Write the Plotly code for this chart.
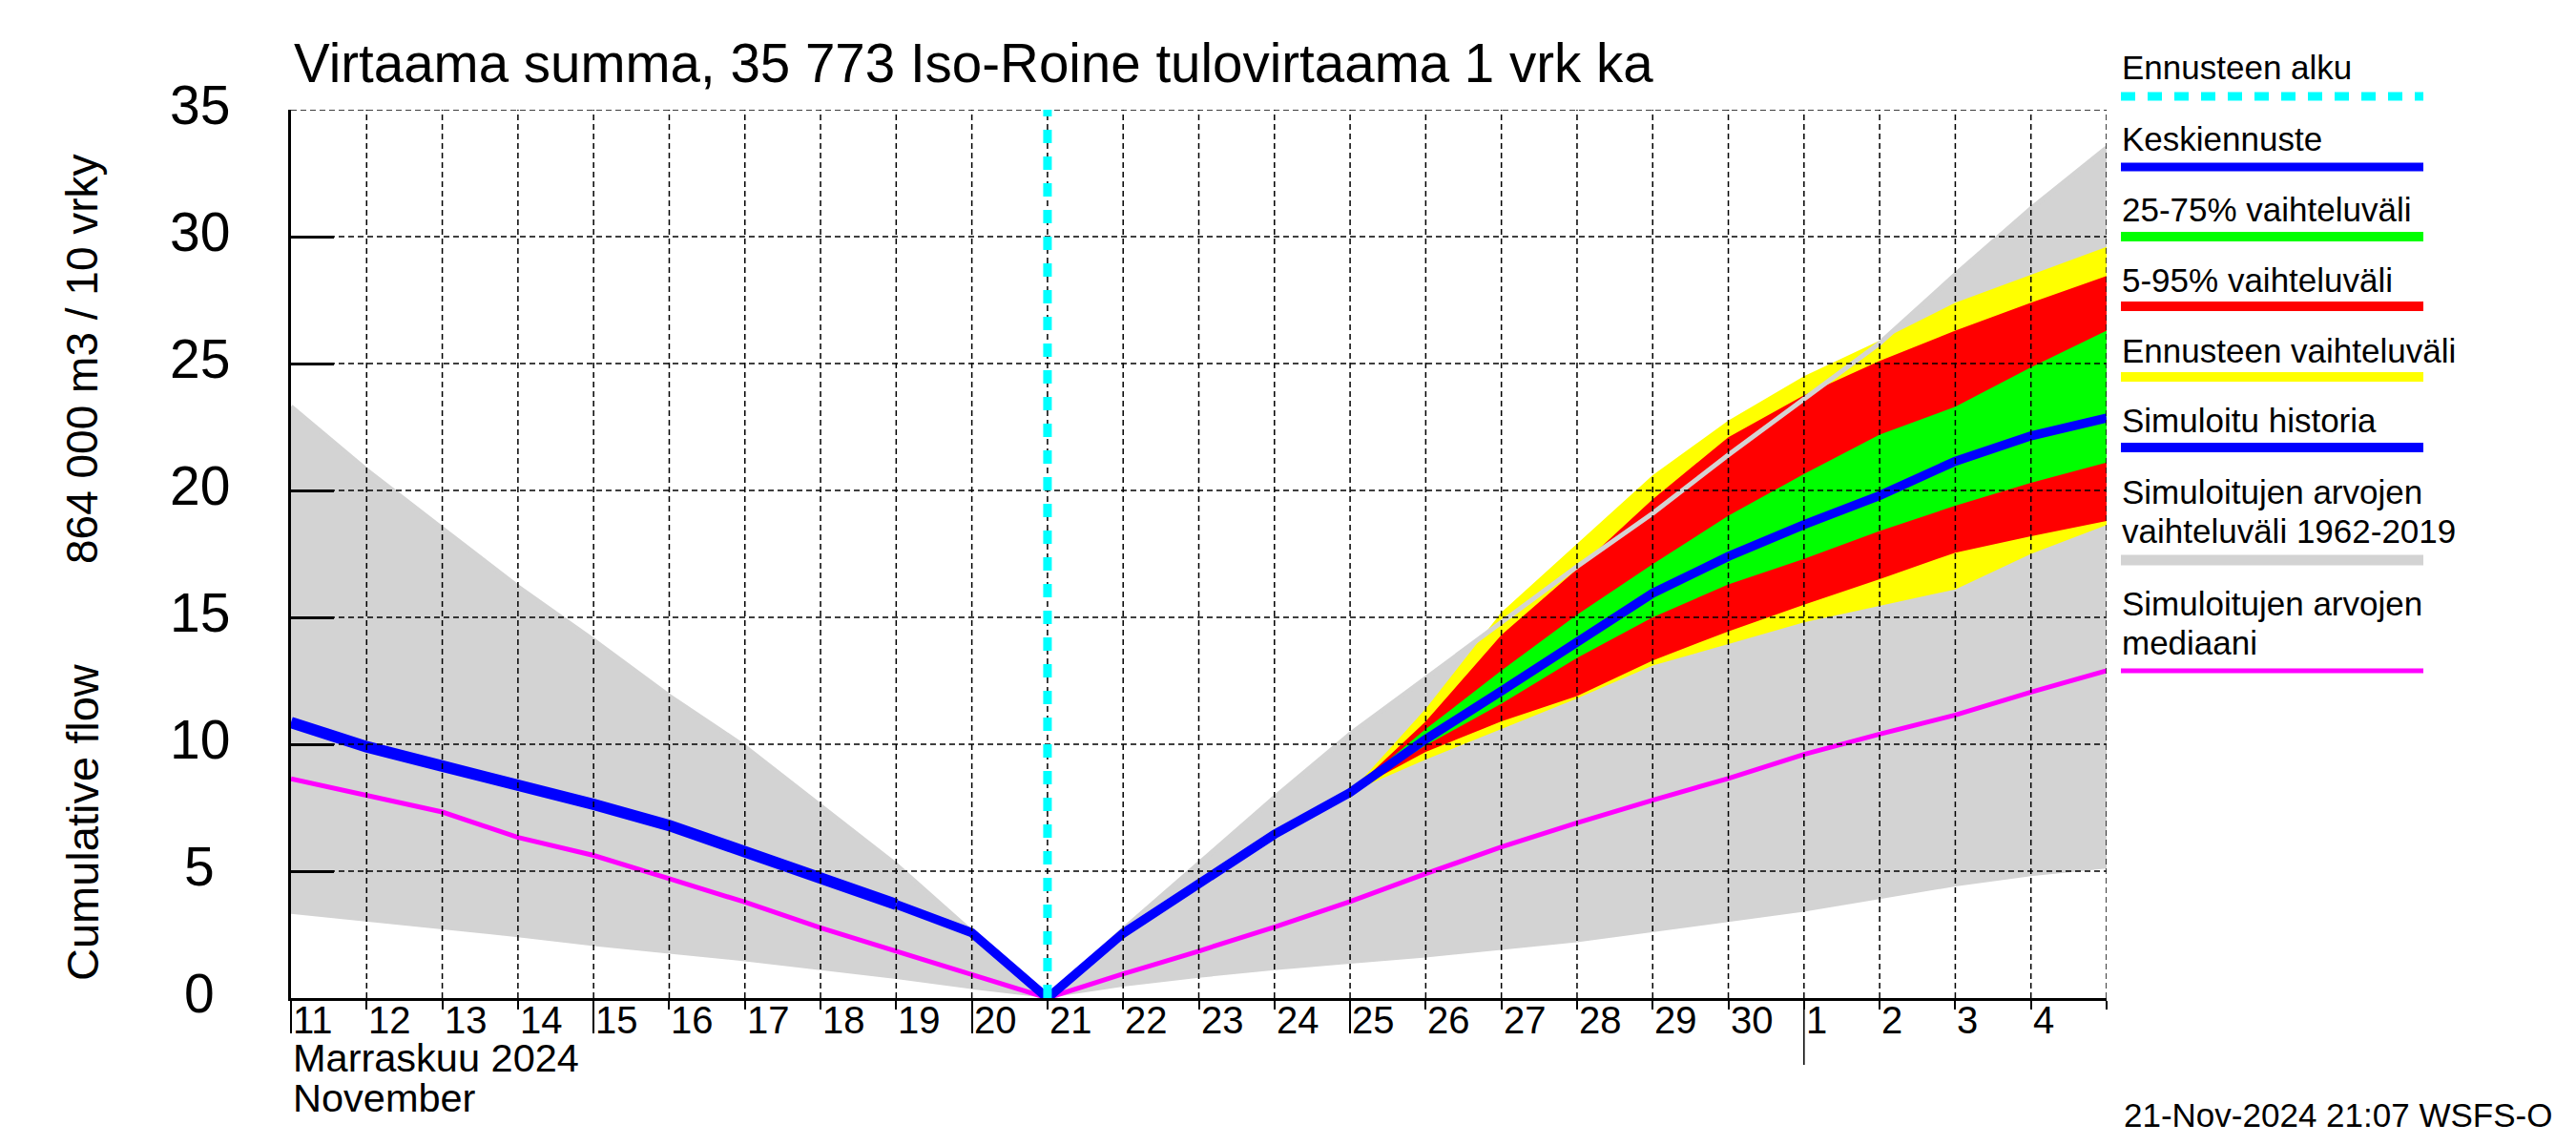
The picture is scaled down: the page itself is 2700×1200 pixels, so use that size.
import plotly.graph_objects as go

# ---------------- data ----------------
all_days = ["2024-11-11", "2024-11-12", "2024-11-13", "2024-11-14", "2024-11-15",
            "2024-11-16", "2024-11-17", "2024-11-18", "2024-11-19", "2024-11-20",
            "2024-11-21", "2024-11-22", "2024-11-23", "2024-11-24", "2024-11-25",
            "2024-11-26", "2024-11-27", "2024-11-28", "2024-11-29", "2024-11-30",
            "2024-12-01", "2024-12-02", "2024-12-03", "2024-12-04", "2024-12-05"]
sim_max = [23.3, 20.8, 18.5, 16.2, 14.1, 11.9, 9.9, 7.6, 5.25, 2.6, 0.0,
           2.7, 5.3, 7.9, 10.4, 12.6, 14.8, 17.0, 19.1, 21.4, 23.6, 25.8, 28.5, 31.1, 33.5]
sim_min = [3.32, 3.0, 2.7, 2.4, 2.05, 1.75, 1.45, 1.1, 0.75, 0.35, 0.0,
           0.45, 0.8, 1.1, 1.35, 1.6, 1.9, 2.2, 2.6, 3.0, 3.4, 3.9, 4.4, 4.8, 5.1]
sim_median = [8.64, 8.0, 7.33, 6.33, 5.62, 4.7, 3.78, 2.77, 1.85, 0.92, 0.0,
              0.95, 1.85, 2.8, 3.8, 4.9, 5.95, 6.9, 7.8, 8.65, 9.6, 10.4, 11.15, 12.05, 12.9]

hist_days = ["2024-11-11", "2024-11-12", "2024-11-13", "2024-11-14", "2024-11-15",
             "2024-11-16", "2024-11-17", "2024-11-18", "2024-11-19"]
hist_sim = [10.86, 9.9, 9.14, 8.44, 7.63, 6.8, 5.76, 4.75, 3.69]

fc_days = ["2024-11-19", "2024-11-20", "2024-11-21", "2024-11-22", "2024-11-23",
           "2024-11-24", "2024-11-25", "2024-11-26", "2024-11-27", "2024-11-28",
           "2024-11-29", "2024-11-30", "2024-12-01", "2024-12-02", "2024-12-03",
           "2024-12-04", "2024-12-05"]
fc_mean = [3.69, 2.57, 0.0, 2.55, 4.5, 6.45, 8.1, 10.2, 12.1, 14.0, 15.95, 17.4,
           18.65, 19.8, 21.15, 22.15, 22.85]

band_days = ["2024-11-25", "2024-11-26", "2024-11-27", "2024-11-28", "2024-11-29",
             "2024-11-30", "2024-12-01", "2024-12-02", "2024-12-03", "2024-12-04",
             "2024-12-05"]
ens_max = [8.1, 11.4, 15.2, 17.9, 20.6, 22.75, 24.5, 25.9, 27.4, 28.5, 29.6]
p95 = [8.1, 10.9, 14.3, 16.9, 19.65, 22.1, 23.75, 25.1, 26.3, 27.4, 28.45]
p75 = [8.1, 10.6, 12.9, 15.1, 17.1, 19.0, 20.65, 22.2, 23.3, 24.85, 26.3]
p25 = [8.1, 9.95, 11.6, 13.4, 15.0, 16.3, 17.3, 18.4, 19.4, 20.3, 21.1]
p5 = [8.1, 9.7, 10.9, 11.9, 13.3, 14.45, 15.5, 16.5, 17.55, 18.2, 18.8]
ens_min = [8.1, 9.4, 10.6, 11.8, 13.1, 13.95, 14.8, 15.45, 16.1, 17.5, 18.64]

forecast_start = "2024-11-21"
x_range = ["2024-11-11", "2024-12-05"]
day_labels = ["11", "12", "13", "14", "15", "16", "17", "18", "19", "20", "21", "22",
              "23", "24", "25", "26", "27", "28", "29", "30", "1", "2", "3", "4"]
long_tick_days = ["2024-11-11", "2024-11-15", "2024-11-20", "2024-11-25"]
month_start = "2024-12-01"
y_ticks = [0, 5, 10, 15, 20, 25, 30, 35]

title = "Virtaama summa, 35 773 Iso-Roine tulovirtaama 1 vrk ka"
ylab_top = "864 000 m3 / 10 vrky"
ylab_bottom = "Cumulative flow"
month_fi = "Marraskuu 2024"
month_en = "November"
stamp = "21-Nov-2024 21:07 WSFS-O"

legend_items = [
    (["Ennusteen alku"], "#00ffff", 9, "15px,13px"),
    (["Keskiennuste"], "#0000ff", 9, "solid"),
    (["25-75% vaihteluväli"], "#00ff00", 10, "solid"),
    (["5-95% vaihteluväli"], "#ff0000", 10, "solid"),
    (["Ennusteen vaihteluväli"], "#ffff00", 10, "solid"),
    (["Simuloitu historia"], "#0000ff", 10, "solid"),
    (["Simuloitujen arvojen", "vaihteluväli 1962-2019"], "#d3d3d3", 11, "solid"),
    (["Simuloitujen arvojen", "mediaani"], "#ff00ff", 5, "solid"),
]
legend_text_y = [[71], [145], [219], [293], [367.5], [440], [515.5, 556.5], [632, 673.5]]
legend_line_y = [101, 175, 248, 321, 395, 469, 587, 703]

# ---------------- geometry (page pixels) ----------------
PAGE_W, PAGE_H = 2700, 1200
OFF = 8                      # body margin of the html page
W, H = PAGE_W - 2 * OFF, PAGE_H - 2 * OFF
L, R, T, B = 305, 2208, 115, 1046
PW, PH = R - L, B - T
FONT = "Liberation Sans"


def px(x):
    return (x - L) / PW


def py(y):
    return (B - y) / PH


fig = go.Figure()


def band(xs, lo, hi, color):
    fig.add_trace(go.Scatter(x=list(xs) + list(xs)[::-1], y=list(hi) + list(lo)[::-1],
                             fill="toself", fillcolor=color, mode="lines",
                             line=dict(width=0, color=color), hoverinfo="skip",
                             showlegend=False))


band(all_days, sim_min, sim_max, "#d3d3d3")
band(band_days, ens_min, ens_max, "#ffff00")
band(band_days, p5, p95, "#ff0000")
band(band_days, p25, p75, "#00ff00")

fig.add_trace(go.Scatter(x=all_days, y=sim_max, mode="lines",
                         line=dict(color="#d3d3d3", width=5), showlegend=False))
fig.add_trace(go.Scatter(x=all_days, y=sim_median, mode="lines",
                         line=dict(color="#ff00ff", width=5), showlegend=False))
fig.add_trace(go.Scatter(x=hist_days, y=hist_sim, mode="lines",
                         line=dict(color="#0000ff", width=12), showlegend=False))
fig.add_trace(go.Scatter(x=fc_days, y=fc_mean, mode="lines",
                         line=dict(color="#0000ff", width=9.5), showlegend=False))

shapes = []
grid = dict(color="black", width=1.5, dash="6px,4px")
for d in all_days[1:]:
    shapes.append(dict(type="line", xref="x", yref="paper", x0=d, x1=d, y0=0, y1=1,
                       line=grid, layer="above"))
for v in y_ticks[1:]:
    shapes.append(dict(type="line", xref="paper", yref="y", x0=0, x1=1, y0=v, y1=v,
                       line=grid, layer="above"))
shapes.append(dict(type="line", xref="x", yref="y", x0=forecast_start, x1=forecast_start,
                   y0=0, y1=y_ticks[-1], line=dict(color="#00ffff", width=9, dash="14px,14px"),
                   layer="above"))
shapes.append(dict(type="line", xref="x", yref="paper", x0=month_start, x1=month_start,
                   y0=0, y1=-70 / PH, line=dict(color="black", width=1.5), layer="above"))

annotations = []
annotations.append(dict(text=title, xref="paper", yref="paper", x=px(306), y=py(67),
                        xanchor="left", yanchor="middle", showarrow=False,
                        font=dict(family=FONT, size=56.5, color="black")))
for v in y_ticks:
    annotations.append(dict(text=str(v), xref="paper", yref="y", x=px(209), y=v,
                            yshift=5, xanchor="center", yanchor="middle", showarrow=False,
                            font=dict(family=FONT, size=57, color="black")))
for d, lab in zip(all_days[:-1], day_labels):
    annotations.append(dict(text=lab, xref="x", yref="paper", x=d, y=py(1069),
                            xanchor="left", yanchor="middle", showarrow=False,
                            font=dict(family=FONT, size=40, color="black")))
annotations.append(dict(text=month_fi, xref="paper", yref="paper", x=px(305), y=py(1108),
                        xanchor="left", yanchor="middle", showarrow=False,
                        font=dict(family=FONT, size=41.5, color="black")))
annotations.append(dict(text=month_en, xref="paper", yref="paper", x=px(305), y=py(1150),
                        xanchor="left", yanchor="middle", showarrow=False,
                        font=dict(family=FONT, size=41.5, color="black")))
annotations.append(dict(text=stamp, xref="paper", yref="paper", x=px(2677), y=py(1168),
                        xanchor="right", yanchor="middle", showarrow=False,
                        font=dict(family=FONT, size=35, color="black")))
annotations.append(dict(text=ylab_top, xref="paper", yref="paper", x=px(86), y=py(376),
                        textangle=-90, xanchor="center", yanchor="middle", showarrow=False,
                        font=dict(family=FONT, size=46, color="black")))
annotations.append(dict(text=ylab_bottom, xref="paper", yref="paper", x=px(86), y=py(862),
                        textangle=-90, xanchor="center", yanchor="middle", showarrow=False,
                        font=dict(family=FONT, size=47, color="black")))

for (lines, color, width, dash), tys, ly in zip(legend_items, legend_text_y, legend_line_y):
    for txt, ty in zip(lines, tys):
        annotations.append(dict(text=txt, xref="paper", yref="paper", x=px(2222), y=py(ty),
                                xanchor="left", yanchor="middle", showarrow=False,
                                font=dict(family=FONT, size=35, color="black")))
    shapes.append(dict(type="line", xref="paper", yref="paper", x0=px(2223), x1=px(2540),
                       y0=py(ly), y1=py(ly), line=dict(color=color, width=width, dash=dash)))

fig.update_layout(
    width=W, height=H,
    margin=dict(l=L - OFF, r=(W + OFF) - R, t=T - OFF, b=(H + OFF) - B, pad=0),
    paper_bgcolor="white", plot_bgcolor="white",
    showlegend=False,
    shapes=shapes, annotations=annotations,
    xaxis=dict(type="date", range=x_range, showgrid=False, zeroline=False,
               showline=True, linecolor="black", linewidth=3,
               tickmode="array", tickvals=long_tick_days, ticks="outside", ticklen=34,
               tickwidth=1.5, tickcolor="black", showticklabels=False,
               minor=dict(tickmode="array",
                          tickvals=[d for d in all_days if d not in long_tick_days],
                          ticks="outside", ticklen=9, tickwidth=1.5, tickcolor="black",
                          showgrid=False),
               layer="above traces"),
    yaxis=dict(range=[0, 35], showgrid=False, zeroline=False, showline=True,
               linecolor="black", linewidth=3, tickmode="array", tickvals=y_ticks,
               ticks="inside", ticklen=45, tickwidth=2.5, tickcolor="black",
               showticklabels=False, layer="above traces"),
)

fig.write_html("out.html", include_plotlyjs=True, config={"displayModeBar": False})
